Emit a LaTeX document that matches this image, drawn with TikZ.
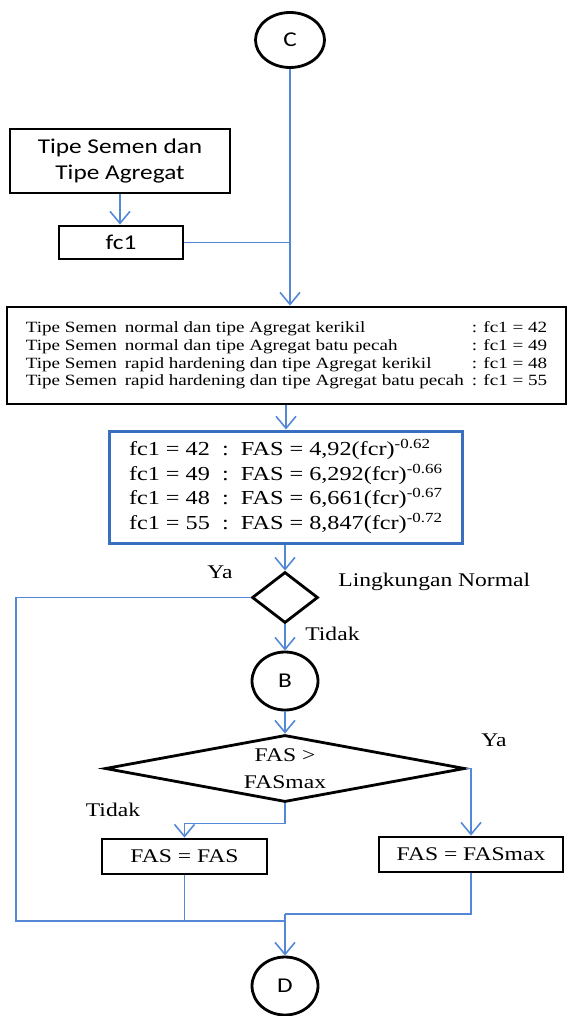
\documentclass[tikz,border=0pt]{standalone}
\usepackage{fontspec}
\setmainfont{Liberation Serif}[FakeStretch=1.22]
\newfontfamily\calibri{Carlito}[FakeStretch=1.2]
\usetikzlibrary{arrows.meta,shapes.geometric}
\definecolor{flowblue}{RGB}{84,136,214}
\definecolor{boxblue}{RGB}{58,110,190}

\begin{document}
\begin{tikzpicture}[x=0.02cm,y=-0.02cm,
	flowline/.style={draw=flowblue, line width=0.9pt},
	flowarrow/.style={flowline, -{Straight Barb[length=2.4mm,width=4mm]}},
	block/.style={draw, line width=\frameWidth, inner sep=0pt},
	connector/.style={draw, ellipse, line width=\frameWidth, inner sep=0pt, font=\calibri\fontsize{12}{14}\selectfont},
	decision/.style={draw, diamond, line width=\frameWidth, inner sep=0pt},
	answer/.style={inner sep=0pt, font=\fontsize{11}{13}\selectfont}]
		\newcommand{\frameWidth}{1.6pt}
		
		\useasboundingbox (0,0) rectangle (569,1016);		% page
		
		% input side
		\node[connector, minimum width=1.38cm, minimum height=1.1cm] (c) at (290,40) {C};
		\node[block, minimum width=4.4cm, minimum height=1.28cm, align=center, font=\calibri\fontsize{12}{14.8}\selectfont] (tipe) at (120,161) {Tipe Semen dan\\Tipe Agregat};
		\node[block, minimum width=2.48cm, minimum height=0.66cm, font=\calibri\fontsize{12}{14.8}\selectfont] (fc) at (121,242.5) {fc1};
		
		% fc1 table
		\node[block, minimum width=11.18cm, minimum height=1.94cm, font=\fontsize{8.9}{10.2}\selectfont] (rules) at (286.5,355.5) {%
			\begin{tabular}{@{}p{1.98cm}@{}p{6.94cm}@{}l@{}}
				Tipe Semen & normal dan tipe Agregat kerikil & : fc1 = 42\\
				Tipe Semen & normal dan tipe Agregat batu pecah & : fc1 = 49\\
				Tipe Semen & rapid hardening dan tipe Agregat kerikil & : fc1 = 48\\
				Tipe Semen & rapid hardening dan tipe Agregat batu pecah & : fc1 = 55
			\end{tabular}};
		
		% FAS formulas
		\node[block, draw=boxblue, line width=1.7pt, minimum width=7.08cm, minimum height=2.26cm, font=\fontsize{11.3}{14.2}\selectfont] (fas) at (286,487.5) {%
			\begin{tabular}{@{}l@{\ \ :\ \ }l@{}}
				fc1 = 42 & FAS = 4,92(fcr)\textsuperscript{-0.62}\\
				fc1 = 49 & FAS = 6,292(fcr)\textsuperscript{-0.66}\\
				fc1 = 48 & FAS = 6,661(fcr)\textsuperscript{-0.67}\\
				fc1 = 55 & FAS = 8,847(fcr)\textsuperscript{-0.72}
			\end{tabular}};
		
		% checks
		\node[decision, minimum width=1.32cm, minimum height=1.02cm] (normal) at (285,597.5) {};
		\node[connector, minimum width=1.32cm, minimum height=1.16cm] (b) at (285,681) {B};
		\node[decision, aspect=5, minimum width=7.2cm, minimum height=1.34cm, align=center, font=\fontsize{11}{15.3}\selectfont] (cek) at (285,768.5) {FAS >\\FASmax};
		\node[block, minimum width=3.3cm, minimum height=0.7cm, font=\fontsize{11}{13}\selectfont] (same) at (184.5,856.5) {FAS = FAS};
		\node[block, minimum width=3.68cm, minimum height=0.7cm, font=\fontsize{11}{13}\selectfont] (max) at (471,854.5) {FAS = FASmax};
		\node[connector, minimum width=1.32cm, minimum height=1.16cm] (d) at (285,986) {D};
		
		% branch texts
		\node[answer] (ya1) at (220,572) {Ya};
		\node[answer, anchor=west] (env) at (338,582) {Lingkungan Normal};
		\node[answer, anchor=west] (tidak1) at (305,634) {Tidak};
		\node[answer] (ya2) at (494,740) {Ya};
		\node[answer] (tidak2) at (113,810) {Tidak};
		
		\coordinate (loop) at (16,921);		% Ya from the first check
		\coordinate (join) at (285,914);	% both FAS boxes meet here
		
		% connectors
		\draw[flowarrow] (c.south) -- (c.south |- rules.north);
		\draw[flowarrow] (tipe.south) -- (tipe.south |- fc.north);
		\draw[flowline] (fc.east) -- (fc.east -| c.south);
		\draw[flowarrow] (rules.south -| fas.north) -- (fas.north);
		\draw[flowarrow] (fas.south -| normal.north) -- (normal.north);
		\draw[flowarrow] (normal.south) -- (b.north);
		\draw[flowarrow] (b.south) -- (cek.north);
		\draw[flowline] (normal.west) -| (loop) -- (loop -| join);
		\draw[flowarrow] (cek.east) -| (max.north);
		\draw[flowarrow] (cek.south) -- ++(0,20) -| (same.north);
		\draw[flowline] (same.south) -- (same.south |- loop);
		\draw[flowline] (max.south) |- (join);
		\draw[flowarrow] (join) -- (d.north);
\end{tikzpicture}
\end{document}
